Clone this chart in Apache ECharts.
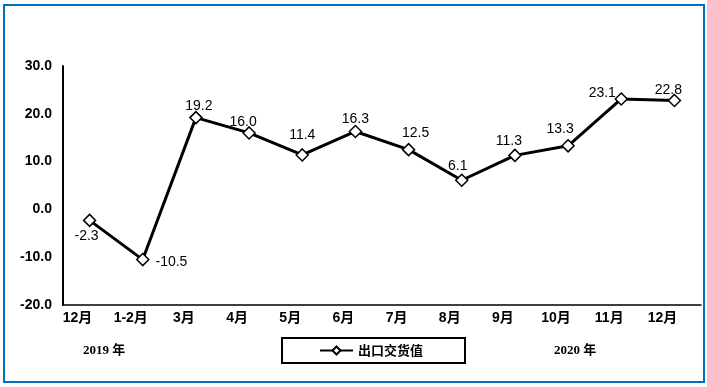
<!DOCTYPE html>
<html>
<head>
<meta charset="utf-8">
<script src="https://cdn.jsdelivr.net/npm/echarts@6/dist/echarts.min.js"></script>
<style>
html,body{margin:0;padding:0;background:#fff;}
#c{width:707px;height:387px;}
</style>
</head>
<body>
<div id="c"></div>
<script>
var categories = ['12月','1-2月','3月','4月','5月','6月','7月','8月','9月','10月','11月','12月'];
var seriesName = '出口交货值';
var values = [-2.3, -10.5, 19.2, 16.0, 11.4, 16.3, 12.5, 6.1, 11.3, 13.3, 23.1, 22.8];
var yearLabels = ['2019 年', '2020 年'];

// label placement (style only)
var labelPos = ['bottom','right','top','top','top','top','top','top','top','top','top','top'];
var labelOff = [[-3,-3],[1,3],[3,7],[-6,8],[0,-1],[0,6],[7,2],[-4,5],[-6,5],[-8,2],[-19,13],[-6,8]];

var chart = echarts.init(document.getElementById('c'), null, {renderer:'canvas'});
var dataItems = values.map(function(v,i){
  return {value:v, label:{position:labelPos[i], offset:labelOff[i]}};
});
chart.setOption({
  animation:false,
  backgroundColor:'#fff',
  grid:{left:63,right:6,top:66,bottom:82,containLabel:false},
  xAxis:{
    type:'category',
    data:categories,
    boundaryGap:true,
    axisLine:{onZero:false,lineStyle:{color:'#000',width:1.5}},
    axisTick:{show:false},
    axisLabel:{color:'#000',fontWeight:'bold',fontSize:14,fontFamily:'Liberation Sans, Arial, Noto Sans CJK SC, sans-serif',margin:6,padding:[0,24,0,0]}
  },
  yAxis:{
    type:'value',
    min:-20,max:30,interval:10,
    axisLine:{show:true,lineStyle:{color:'#000',width:2}},
    axisTick:{show:false},
    splitLine:{show:false},
    axisLabel:{color:'#000',fontWeight:'bold',fontSize:14,fontFamily:'Liberation Sans, Arial, sans-serif',margin:11,
      formatter:function(v){return v.toFixed(1);}}
  },
  legend:{
    data:[seriesName],
    left:282, top:338,
    width:182,
    borderColor:'#000',borderWidth:2,
    padding:[6,42,6,37],
    itemWidth:33,itemHeight:10,itemGap:5,
    textStyle:{color:'#000',fontWeight:'bold',fontSize:13,fontFamily:'Noto Sans CJK SC, sans-serif'}
  },
  graphic:[
    {type:'rect',shape:{x:4,y:5,width:700,height:377},style:{fill:null,stroke:'#0070C0',lineWidth:2},silent:true,z:100},
    {type:'text',left:83,top:344,style:{text:yearLabels[0],font:'bold 13px "Liberation Serif", "Noto Sans CJK SC", serif',fill:'#000'}},
    {type:'text',left:554,top:344,style:{text:yearLabels[1],font:'bold 13px "Liberation Serif", "Noto Sans CJK SC", serif',fill:'#000'}}
  ],
  series:[{
    name:seriesName,
    type:'line',
    data:dataItems,
    symbol:'diamond',
    symbolSize:12,
    lineStyle:{color:'#000',width:3},
    itemStyle:{color:'#fff',borderColor:'#000',borderWidth:1.5},
    label:{show:true,color:'#000',fontSize:14,fontFamily:'Liberation Sans, Arial, sans-serif',
      formatter:function(p){return p.value.toFixed(1);}}
  }]
});
</script>
</body>
</html>
